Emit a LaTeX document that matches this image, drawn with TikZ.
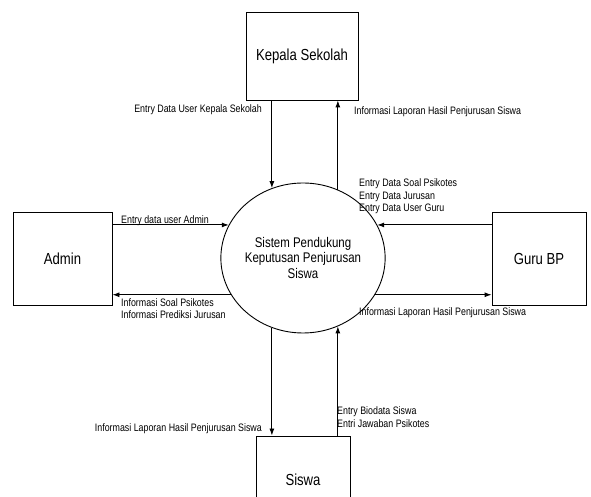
\documentclass[tikz,border=0pt]{standalone}
\usepackage{fontspec}
\setmainfont{Liberation Sans}[FakeStretch=0.82]
\usetikzlibrary{arrows.meta,shapes.geometric}
\tikzset{
  ent/.style={draw, line width=0.9pt, inner sep=0pt, font=\fontsize{16}{19}\selectfont},
  lbl/.style={inner sep=0pt, align=left, font=\fontsize{10.8}{12.5}\selectfont},
  flow/.style={line width=0.9pt, -{Latex[length=7pt,width=5pt]}}
}
\begin{document}
\begin{tikzpicture}[x=1pt, y=1pt]
\useasboundingbox (0,0) rectangle (591,497);
\clip (0,0) rectangle (591,497);
\node[ent, minimum width=112pt, minimum height=88pt] (kep) at (302,441) {Kepala Sekolah};
\node[ent, minimum width=99pt, minimum height=93pt] (adm) at (62.5,238.5) {Admin};
\node[ent, minimum width=94pt, minimum height=93pt] (gbp) at (539,238.5) {Guru BP};
\node[ent, minimum width=94pt, minimum height=88pt] (sis) at (303,17) {Siswa};
\node[ellipse, draw, line width=0.9pt, inner sep=0pt, minimum width=130pt, minimum height=150pt,
  align=center, font=\fontsize{14}{15.5}\selectfont] (spk) at (303,239)
  {Sistem Pendukung\\Keputusan Penjurusan\\Siswa};

\draw[flow] (kep.south -| spk.114) -- (spk.114);
\draw[flow] (spk.63) -- (kep.south -| spk.63);
\draw[flow] (adm.east |- spk.156) -- (spk.156);
\draw[flow] (spk.-153) -- (adm.east |- spk.-153);
\draw[flow] (gbp.west |- spk.24) -- (spk.24);
\draw[flow] (spk.-27) -- (gbp.west |- spk.-27);
\draw[flow] (spk.-114) -- (sis.north -| spk.-114);
\draw[flow] (sis.north -| spk.-63) -- (spk.-63);

\node[lbl, anchor=east] (l1) at (262,387) {Entry Data User Kepala Sekolah};
\node[lbl, anchor=west] (l2) at (354,385) {Informasi Laporan Hasil Penjurusan Siswa};
\node[lbl, anchor=west] (l3) at (121,276) {Entry data user Admin};
\node[lbl, anchor=west] (l4) at (121,188.5) {Informasi Soal Psikotes\\Informasi Prediksi Jurusan};
\node[lbl, anchor=west] (l5) at (359,300.5) {Entry Data Soal Psikotes\\Entry Data Jurusan\\Entry Data User Guru};
\node[lbl, anchor=west] (l6) at (359,184) {Informasi Laporan Hasil Penjurusan Siswa};
\node[lbl, anchor=east] (l7) at (262,68) {Informasi Laporan Hasil Penjurusan Siswa};
\node[lbl, anchor=west] (l8) at (337,80) {Entry Biodata Siswa\\Entri Jawaban Psikotes};
\end{tikzpicture}
\end{document}
